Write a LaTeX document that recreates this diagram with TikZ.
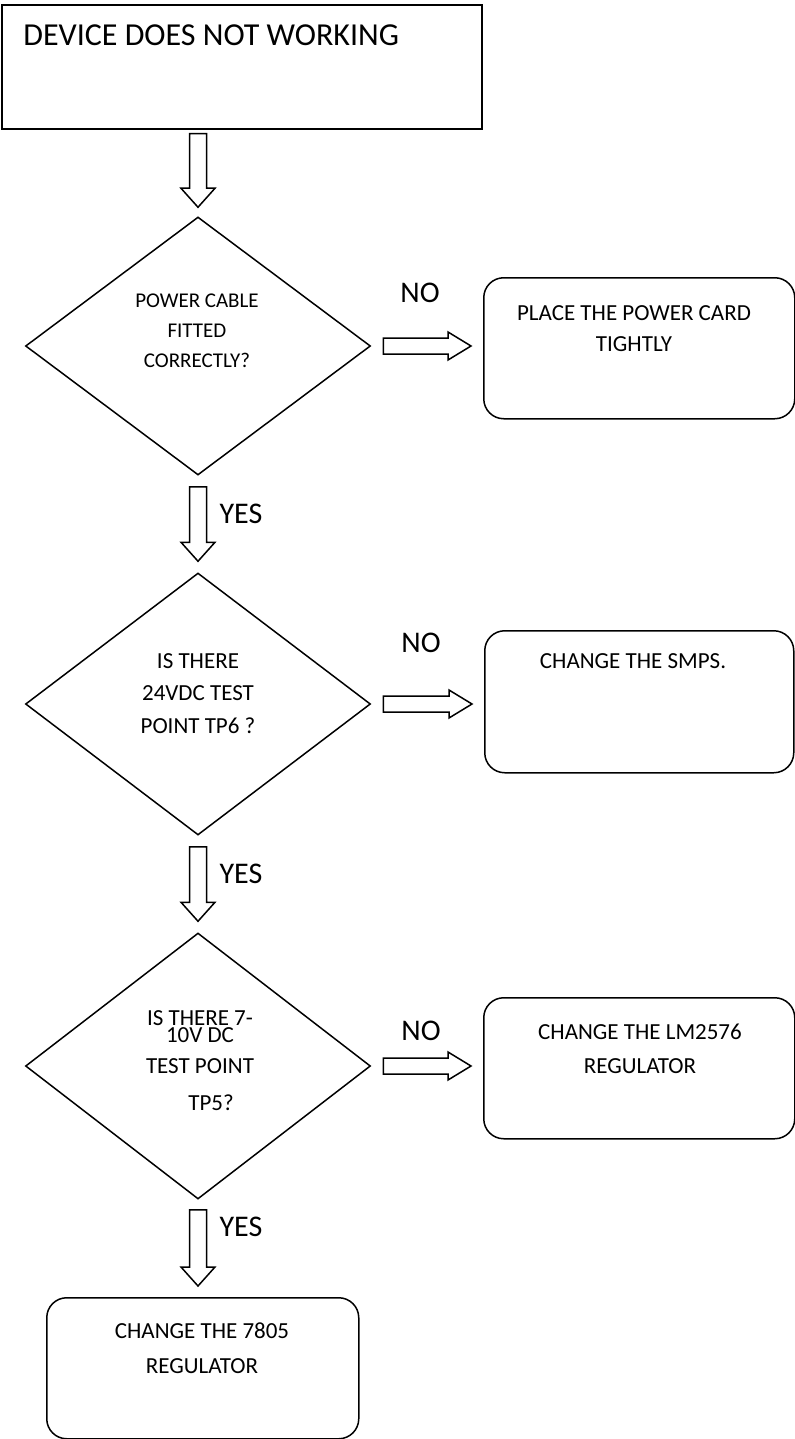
\documentclass[tikz,border=0pt]{standalone}
\usepackage{fontspec}
\setmainfont{Carlito}
\usetikzlibrary{shapes.geometric,calc}
\newcommand\vblock[2]{\draw[blk] ($(#1)+(-8.5,0)$) -- ($(#1)+(8.5,0)$) -- ($(#2)+(8.5,-19)$) -- ($(#2)+(17,-19)$) -- (#2) -- ($(#2)+(-17,-19)$) -- ($(#2)+(-8.5,-19)$) -- cycle;}
\newcommand\hblock[2]{\draw[blk] ($(#1)+(0,-8)$) -- ($(#2)+(-23,-8)$) -- ($(#2)+(-23,-14)$) -- (#2) -- ($(#2)+(-23,14)$) -- ($(#2)+(-23,8)$) -- ($(#1)+(0,8)$) -- cycle;}
\begin{document}
\begin{tikzpicture}[x=0.5pt,y=-0.5pt,
  blk/.style={draw, line width=0.75pt, line join=miter},
  plainbox/.style={draw, rectangle, inner sep=0, line width=0.8pt, anchor=north west},
  rbox/.style={draw, rectangle, rounded corners=10pt, inner sep=0, line width=0.75pt, anchor=north west},
  dia/.style={draw, diamond, inner sep=0, line width=0.75pt, minimum width=172.5pt},
  txt/.style={align=center, anchor=base, inner sep=0},
  lbl/.style={font=\fontsize{15}{18}\selectfont, anchor=base, inner sep=0}]
\useasboundingbox (0,0) rectangle (795,1439);
% boxes
\node[plainbox, minimum width=240pt, minimum height=62pt] (top) at (1,4) {};
\node[anchor=base west, inner sep=0, font=\fontsize{16}{19}\selectfont] (toptxt) at (23,46) {DEVICE DOES NOT WORKING};
\node[dia, minimum height=129pt] (d1) at (198,346) {};
\node[dia, minimum height=131pt] (d2) at (198,704) {};
\node[dia, minimum height=133pt] (d3) at (198,1066) {};
\node[rbox, minimum width=155.5pt, minimum height=70.5pt] (b1) at (483,277) {};
\node[rbox, minimum width=154.5pt, minimum height=71pt] (b2) at (484,630) {};
\node[rbox, minimum width=155.5pt, minimum height=70.5pt] (b3) at (483,997) {};
\node[rbox, minimum width=156pt, minimum height=70.5pt] (b4) at (46,1297) {};
% texts (anchor = baseline of last line)
\node[txt, font=\fontsize{10.5}{15}\selectfont] (t1) at (197,367) {POWER CABLE\\FITTED\\CORRECTLY?};
\node[txt, font=\fontsize{11.5}{16.25}\selectfont] (t2) at (198,733) {IS THERE\\24VDC TEST\\POINT TP6 ?};
\node[txt, font=\fontsize{11.5}{15.5}\selectfont] (t3) at (200,1110) {IS THERE 7-\\[-7pt]10V DC\\TEST POINT\\[3pt]\hspace*{11pt}TP5?};
\node[txt, font=\fontsize{11.5}{15.5}\selectfont] (bt1) at (634,351) {PLACE THE POWER CARD\\TIGHTLY};
\node[txt, font=\fontsize{11.5}{15.5}\selectfont] (bt2) at (633,668) {CHANGE THE SMPS.};
\node[txt, font=\fontsize{11.5}{16.75}\selectfont] (bt3) at (640,1073) {CHANGE THE LM2576\\REGULATOR};
\node[txt, font=\fontsize{11.5}{17.5}\selectfont] (bt4) at (202,1373) {CHANGE THE 7805\\REGULATOR};
\node[lbl] (no1) at (420,302) {NO};
\node[lbl] (no2) at (421,652) {NO};
\node[lbl] (no3) at (421,1040) {NO};
\node[lbl] (yes1) at (241,523) {YES};
\node[lbl] (yes2) at (241,883) {YES};
\node[lbl] (yes3) at (241,1236) {YES};
% connector end points
\coordinate (a0s) at ($(d1.north |- top.south)+(0,4)$);
\coordinate (a0e) at ($(d1.north)+(0,-9)$);
\coordinate (a1s) at ($(d1.south)+(0,11)$);
\coordinate (a1e) at ($(d2.north)+(0,-11)$);
\coordinate (a2s) at ($(d2.south)+(0,11)$);
\coordinate (a2e) at ($(d3.north)+(0,-11)$);
\coordinate (a3s) at ($(d3.south)+(0,10)$);
\coordinate (a3e) at ($(d3.south |- b4.north)+(0,-11)$);
\coordinate (h1s) at ($(d1.east)+(12,0)$);
\coordinate (h1e) at ($(b1.west |- d1.east)+(-12,0)$);
\coordinate (h2s) at ($(d2.east)+(12,0)$);
\coordinate (h2e) at ($(b2.west |- d2.east)+(-12,0)$);
\coordinate (h3s) at ($(d3.east)+(12,0)$);
\coordinate (h3e) at ($(b3.west |- d3.east)+(-12,0)$);
% connectors
\vblock{a0s}{a0e}
\vblock{a1s}{a1e}
\vblock{a2s}{a2e}
\vblock{a3s}{a3e}
\hblock{h1s}{h1e}
\hblock{h2s}{h2e}
\hblock{h3s}{h3e}
\end{tikzpicture}
\end{document}
